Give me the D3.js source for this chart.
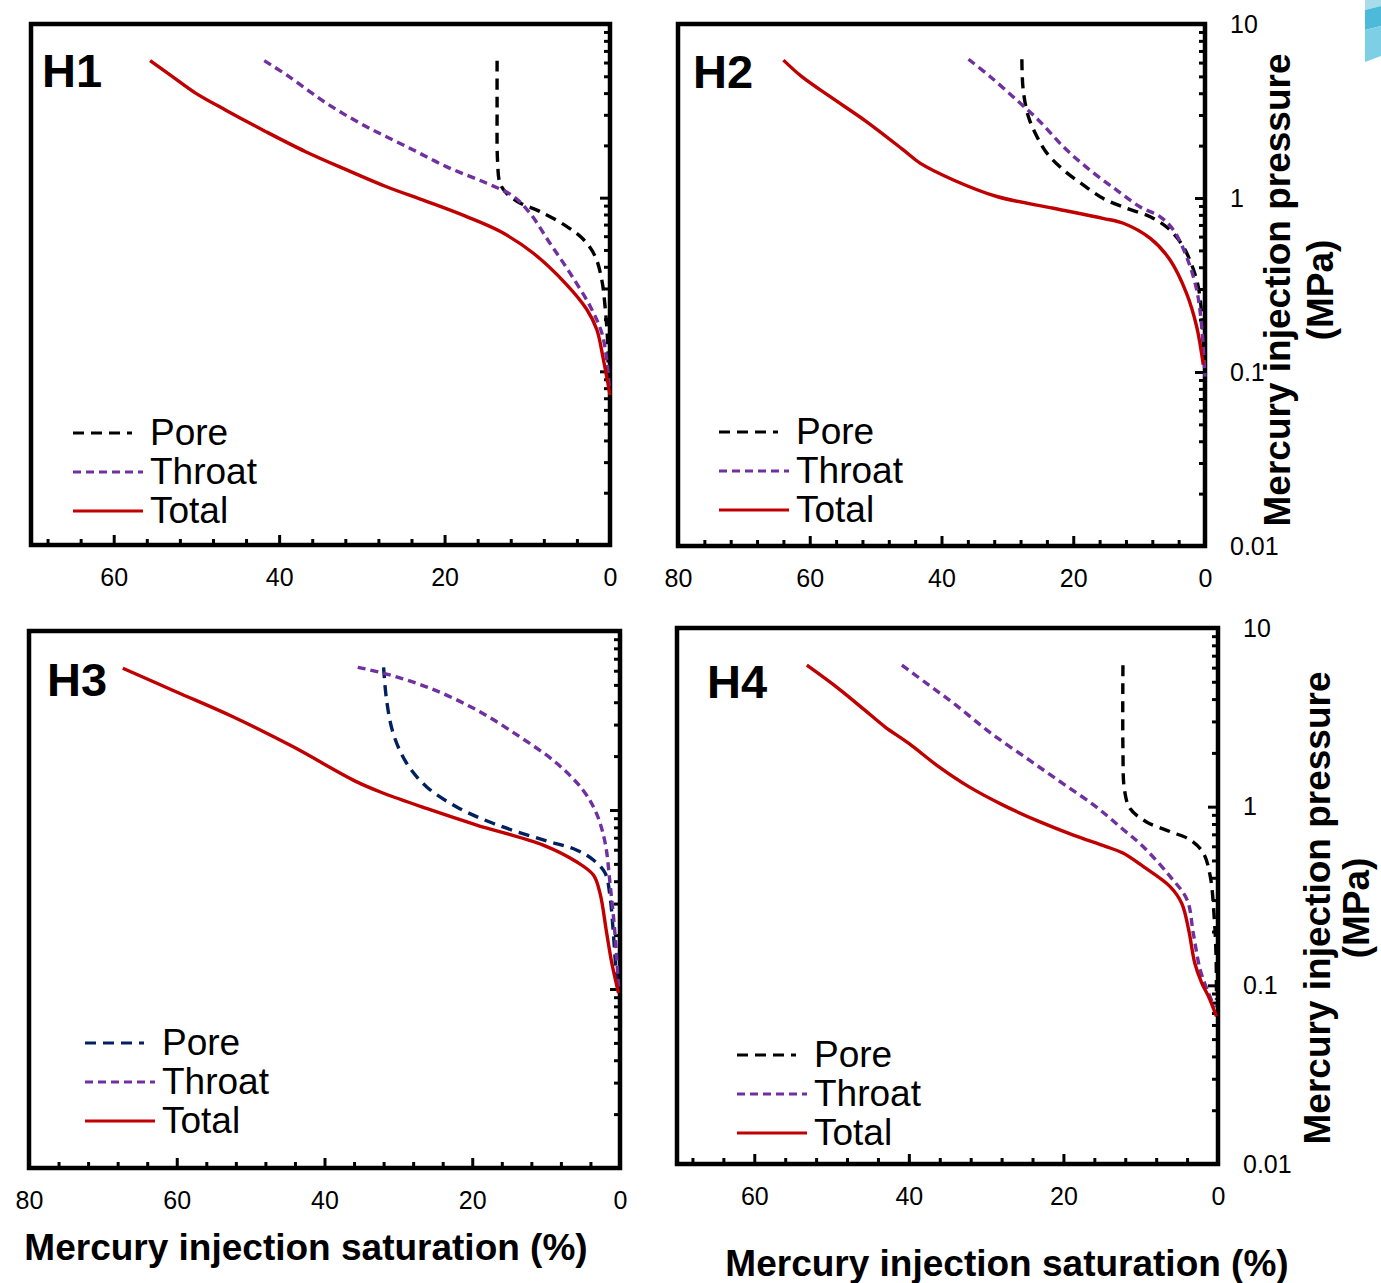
<!DOCTYPE html>
<html>
<head>
<meta charset="utf-8">
<script src="https://cdn.jsdelivr.net/npm/d3@7"></script>
<style>
  html, body { margin: 0; padding: 0; background: #fff; }
  svg { display: block; }
  text { font-family: "Liberation Sans", Arial, sans-serif; }
</style>
</head>
<body>
<svg id="chart" width="1381" height="1283"></svg>
<script>
// Mercury injection curves: [saturation %, pressure MPa]
const h1Pore   = [[13.65,6.15],[13.65,3.35],[13.6,1.65],[13.3,1.21],[12.5,1.06],[10.9,0.933],[8.5,0.834],[5.25,0.684],[3.2,0.574],[1.8,0.46],[1.0,0.338],[0.6,0.237],[0.3,0.153],[0.2,0.1],[0.1,0.085]];
const h1Throat = [[41.8,6.15],[38.8,4.98],[34.3,3.5],[29.5,2.57],[24.6,1.97],[19.8,1.51],[14.9,1.21],[11.7,1.02],[9.7,0.817],[7.3,0.55],[4.85,0.369],[2.4,0.237],[1.0,0.167],[0.4,0.117],[0.1,0.082]];
const h1Total  = [[55.6,6.15],[52.9,4.98],[50.1,4.0],[46.5,3.2],[41.6,2.4],[36.8,1.84],[31.9,1.45],[27.1,1.16],[22.2,0.953],[17.4,0.78],[13.3,0.64],[9.3,0.48],[5.25,0.316],[2.8,0.227],[1.6,0.174],[0.8,0.117],[0,0.073]];

const h2Pore   = [[27.8,6.27],[27.6,4.18],[26.8,2.93],[25.5,2.25],[24.0,1.81],[21.5,1.45],[18.5,1.19],[15.5,0.996],[11.9,0.873],[8.3,0.78],[5.6,0.67],[3.3,0.525],[1.26,0.338],[0.5,0.217],[0.3,0.153],[0.1,0.12]];
const h2Throat = [[35.9,6.27],[32.6,4.98],[28.6,3.66],[25.3,2.81],[21.5,1.97],[17.5,1.45],[13.4,1.11],[9.9,0.891],[6.8,0.78],[4.8,0.655],[2.8,0.46],[1.26,0.296],[0.5,0.182],[0,0.094]];
const h2Total  = [[64.0,6.2],[61.2,4.98],[56.9,3.82],[51.4,2.75],[45.8,1.89],[43.2,1.58],[38.2,1.27],[31.6,1.02],[23.0,0.873],[15.5,0.764],[12.4,0.716],[8.3,0.586],[5.3,0.44],[2.8,0.283],[1.26,0.182],[0.26,0.11]];

const h3Pore   = [[32.0,6.27],[31.6,4.12],[30.7,2.68],[28.9,1.83],[26.2,1.35],[22.1,1.04],[17.2,0.843],[10.4,0.68],[5.9,0.598],[3.6,0.526],[2.0,0.443],[1.35,0.328],[0.9,0.205],[0.55,0.128],[0.3,0.102]];
const h3Throat = [[35.5,6.27],[31.6,5.75],[25.7,4.79],[19.4,3.62],[13.6,2.57],[8.6,1.83],[5.0,1.29],[3.2,0.96],[2.0,0.652],[1.35,0.389],[0.8,0.233],[0.45,0.151],[0.2,0.103]];
const h3Total  = [[67.3,6.19],[60.1,4.58],[52.4,3.32],[44.3,2.26],[35.7,1.44],[32.0,1.24],[26.2,1.02],[19.4,0.824],[10.4,0.637],[5.9,0.514],[3.6,0.433],[2.7,0.342],[1.8,0.205],[1.1,0.139],[0.2,0.095]];

const h4Pore   = [[12.3,6.19],[12.3,2.07],[12.1,1.24],[11.4,0.98],[9.3,0.824],[6.2,0.725],[3.6,0.652],[1.9,0.55],[1.0,0.407],[0.5,0.243],[0.25,0.145],[0.2,0.083]];
const h4Throat = [[40.9,6.19],[37.4,4.79],[33.9,3.7],[29.6,2.62],[24.4,1.82],[20.1,1.35],[15.8,1.0],[12.7,0.773],[9.7,0.598],[6.2,0.407],[4.0,0.301],[3.2,0.196],[2.3,0.122],[1.25,0.091],[0.4,0.075]];
const h4Total  = [[53.2,6.19],[49.1,4.58],[45.7,3.47],[43.1,2.8],[40.0,2.26],[36.1,1.67],[32.2,1.29],[27.8,1.02],[23.1,0.824],[18.8,0.695],[14.5,0.598],[12.3,0.55],[9.7,0.463],[6.2,0.357],[4.7,0.288],[3.8,0.205],[3.0,0.133],[2.1,0.103],[1.25,0.087],[0.2,0.067]];

const seriesNames = ["Pore", "Throat", "Total"];
const panelNames = ["H1", "H2", "H3", "H4"];
const yTickValues = [0.01, 0.1, 1, 10];
const yTickLabels = ["0.01", "0.1", "1", "10"];
const xTitle = "Mercury injection saturation (%)";
const yTitle = ["Mercury injection pressure", "(MPa)"];

// Panel frames and per-panel styling
const panels = [
  { name: panelNames[0], data: [h1Pore, h1Throat, h1Total], left: 31,  right: 610,  top: 24,  bottom: 545,  xMax: 70, poreColor: "#000000",
    xLabels: [0, 20, 40, 60], yLabels: false, legend: [73, 433], nameAt: [42, 87] },
  { name: panelNames[1], data: [h2Pore, h2Throat, h2Total], left: 678, right: 1205, top: 24,  bottom: 546,  xMax: 80, poreColor: "#000000",
    xLabels: [0, 20, 40, 60, 80], yLabels: true, legend: [719, 432], nameAt: [693, 88], titleX: [1290, 1333], titleY: 290 },
  { name: panelNames[2], data: [h3Pore, h3Throat, h3Total], left: 29,  right: 620,  top: 631, bottom: 1168, xMax: 80, poreColor: "#002060",
    xLabels: [0, 20, 40, 60, 80], yLabels: false, legend: [85, 1043], nameAt: [47, 696], xTitleAt: [306, 1260] },
  { name: panelNames[3], data: [h4Pore, h4Throat, h4Total], left: 677, right: 1218, top: 628, bottom: 1164, xMax: 70, poreColor: "#000000",
    xLabels: [0, 20, 40, 60], yLabels: true, legend: [737, 1055], nameAt: [707, 698], titleX: [1330, 1369], titleY: 908, xTitleAt: [1007, 1276] }
];

const svg = d3.select("#chart");

// small decorative band at the top-right edge
const deco = svg.append("g");
deco.append("polygon").attr("points", "1365,0 1381,0 1381,6 1365,10").attr("fill", "#a9dceb");
deco.append("polygon").attr("points", "1365,10 1381,6 1381,26 1365,30").attr("fill", "#4cbad8");
deco.append("polygon").attr("points", "1365,30 1381,26 1381,56 1365,62").attr("fill", "#7ccfe4");

panels.forEach(p => {
  const g = svg.append("g");
  const x = d3.scaleLinear().domain([p.xMax, 0]).range([p.left, p.right]);
  const y = d3.scaleLog().domain([0.01, 10]).range([p.bottom, p.top]);

  // minor / major ticks along the bottom
  const minorX = d3.range(0, p.xMax + 0.001, 4).filter(v => v % 20 !== 0);
  const majorX = d3.range(0, p.xMax + 0.001, 20);
  const axX = g.append("g").attr("transform", `translate(0,${p.bottom})`);
  axX.append("g").call(d3.axisBottom(x).tickValues(minorX).tickSizeInner(-6).tickSizeOuter(0).tickFormat(""));
  axX.append("g").call(d3.axisBottom(x).tickValues(majorX).tickSizeInner(-10).tickSizeOuter(0).tickPadding(23)
      .tickFormat(d => p.xLabels.includes(d) ? d3.format("d")(d) : ""));
  axX.selectAll(".domain").remove();
  axX.selectAll("line").attr("stroke", "#000").attr("stroke-width", 3);
  axX.selectAll("text").attr("font-size", 25).attr("fill", "#000").attr("font-family", "Liberation Sans, Arial, sans-serif");

  // log ticks along the right edge
  const minorY = [];
  [0.01, 0.1, 1].forEach(d => { for (let k = 2; k <= 9; k++) minorY.push(+(d * k).toPrecision(3)); });
  const axY = g.append("g").attr("transform", `translate(${p.right},0)`);
  axY.append("g").call(d3.axisRight(y).tickValues(minorY).tickSizeInner(-6).tickSizeOuter(0).tickFormat(""));
  axY.append("g").call(d3.axisRight(y).tickValues(yTickValues).tickSizeInner(-10).tickSizeOuter(0).tickPadding(25)
      .tickFormat((d, i) => p.yLabels ? yTickLabels[i] : ""));
  axY.selectAll(".domain").remove();
  axY.selectAll("line").attr("stroke", "#000").attr("stroke-width", 3);
  axY.selectAll("text").attr("font-size", 25).attr("fill", "#000").attr("font-family", "Liberation Sans, Arial, sans-serif");

  // frame
  g.append("rect").attr("x", p.left).attr("y", p.top)
    .attr("width", p.right - p.left).attr("height", p.bottom - p.top)
    .attr("fill", "none").attr("stroke", "#000").attr("stroke-width", 4.5);

  // curves
  const line = d3.line().x(d => x(d[0])).y(d => y(d[1])).curve(d3.curveCatmullRom.alpha(0.5));
  const styles = [
    { color: p.poreColor, dash: "11,7", width: 3.4 },
    { color: "#7030A0", dash: "8,5", width: 3.4 },
    { color: "#C00000", dash: null, width: 3.4 }
  ];
  p.data.forEach((ser, i) => {
    g.append("path").datum(ser).attr("d", line)
      .attr("fill", "none").attr("stroke", styles[i].color)
      .attr("stroke-width", styles[i].width)
      .attr("stroke-dasharray", styles[i].dash);
  });

  // legend
  const legLen = [59, 70, 70];
  const lg = g.append("g").attr("transform", `translate(${p.legend[0]},${p.legend[1]})`);
  seriesNames.forEach((nm, i) => {
    const yy = i * 39;
    lg.append("line").attr("x1", 0).attr("x2", legLen[i]).attr("y1", yy).attr("y2", yy)
      .attr("stroke", styles[i].color).attr("stroke-width", 3)
      .attr("stroke-dasharray", styles[i].dash);
    lg.append("text").attr("x", 77).attr("y", yy + 12).attr("font-size", 37).attr("fill", "#000").text(nm);
  });

  // panel name
  g.append("text").attr("x", p.nameAt[0]).attr("y", p.nameAt[1])
    .attr("font-size", 47).attr("font-weight", "bold").attr("fill", "#000").text(p.name);

  // axis titles
  if (p.titleX) {
    yTitle.forEach((t, i) => {
      g.append("text").attr("transform", `translate(${p.titleX[i]},${p.titleY}) rotate(-90)`)
        .attr("text-anchor", "middle").attr("font-size", 37).attr("font-weight", "bold").attr("fill", "#000").text(t);
    });
  }
  if (p.xTitleAt) {
    g.append("text").attr("x", p.xTitleAt[0]).attr("y", p.xTitleAt[1]).attr("text-anchor", "middle")
      .attr("font-size", 37).attr("font-weight", "bold").attr("fill", "#000").text(xTitle);
  }
});
</script>
</body>
</html>
